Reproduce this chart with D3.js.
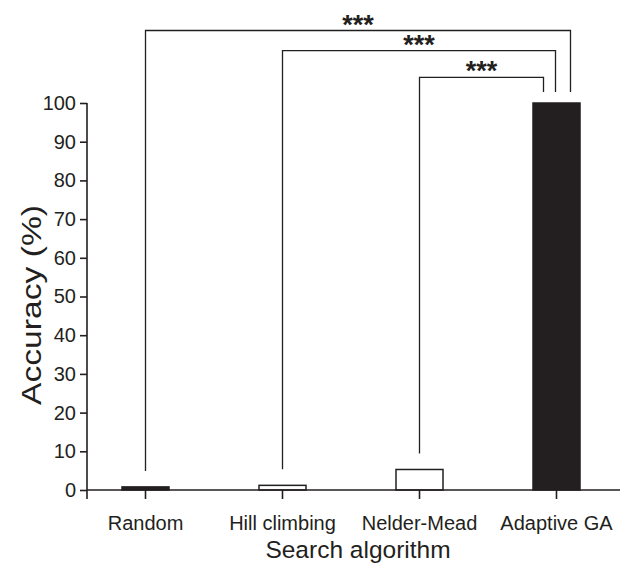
<!DOCTYPE html>
<html><head><meta charset="utf-8">
<script src="https://cdn.jsdelivr.net/npm/d3@7"></script>
<style>body{margin:0;background:#fff}svg{display:block}text{font-family:"Liberation Sans",Arial,sans-serif;fill:#231f20}</style>
</head><body><svg id="c" width="627" height="571"></svg>
<script>
const categories = ["Random", "Hill climbing", "Nelder-Mead", "Adaptive GA"];
const accuracy = [0.8, 1.2, 5.3, 100];
const filled = [true, false, false, true];
const yTicks = [0,10,20,30,40,50,60,70,80,90,100];
const comparisons = [
  {from: "Random", to: "Adaptive GA", label: "***"},
  {from: "Hill climbing", to: "Adaptive GA", label: "***"},
  {from: "Nelder-Mead", to: "Adaptive GA", label: "***"}
];

const svg = d3.select("#c");
const ink = "#231f20";
const font = '"Liberation Sans",Arial,sans-serif';
const x = d3.scaleBand().domain(categories).range([77, 625]).padding(0);
const y = d3.scaleLinear().domain([0, 100]).range([490, 103]);
const bw = 47;

// bars
svg.selectAll("rect.bar").data(categories).enter().append("rect")
  .attr("x", d => x(d) + x.bandwidth()/2 - bw/2)
  .attr("y", (d,i) => y(accuracy[i]))
  .attr("width", bw)
  .attr("height", (d,i) => y(0) - y(accuracy[i]))
  .attr("fill", (d,i) => filled[i] ? ink : "#fff")
  .attr("stroke", ink).attr("stroke-width", 1.5);

// y axis
const yAxis = svg.append("g").attr("transform", "translate(87,0)")
  .call(d3.axisLeft(y).tickValues(yTicks).tickSize(7).tickPadding(4));
yAxis.select(".domain").attr("d", "M0," + y(100) + "V" + (y(0)+9));
yAxis.selectAll("line,path").attr("stroke", ink).attr("stroke-width", 1.6);
yAxis.selectAll("text").attr("font-size", 20).attr("fill", ink).style("font-family", font);

// x axis
const xAxis = svg.append("g").attr("transform", "translate(0," + y(0) + ")")
  .call(d3.axisBottom(x).tickSize(9).tickPadding(17));
xAxis.select(".domain").attr("d", "M87,0H620");
xAxis.selectAll("line,path").attr("stroke", ink).attr("stroke-width", 1.6);
xAxis.selectAll("text").attr("font-size", 20).attr("fill", ink).style("font-family", font);

// axis titles
svg.append("text").attr("x", 358).attr("y", 558).attr("text-anchor", "middle")
  .attr("font-size", 24.5).text("Search algorithm");
svg.append("text").attr("transform", "translate(41,305) rotate(-90)")
  .attr("text-anchor", "middle").attr("font-size", 27)
  .attr("textLength", 200).attr("lengthAdjust", "spacingAndGlyphs")
  .text("Accuracy (%)");

// significance brackets
const levels = [30.5, 50.7, 77.3];
const rightOffsets = [14, -1, -13];
const cx = d => x(d) + x.bandwidth()/2;
comparisons.forEach((c, i) => {
  const xl = cx(c.from), xr = cx(c.to) + rightOffsets[i];
  const li = categories.indexOf(c.from);
  const yl = y(accuracy[li]) - 16;
  const yr = y(100) - 11;
  const lv = levels[i];
  svg.append("path")
    .attr("d", `M${xl},${yl}V${lv}H${xr}V${yr}`)
    .attr("fill", "none").attr("stroke", ink).attr("stroke-width", 1.3);
  svg.append("text").attr("x", (xl + xr)/2).attr("y", lv + 3)
    .attr("text-anchor", "middle").attr("font-size", 27).attr("font-weight", "bold")
    .text(c.label);
});
</script></body></html>
